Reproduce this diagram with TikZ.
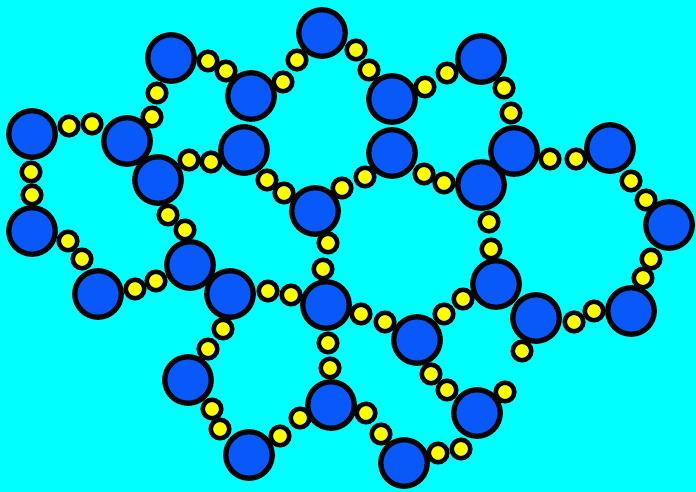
\documentclass[tikz,border=0pt]{standalone}
\usepackage{xcolor}
\definecolor{bgcyan}{RGB}{0, 255, 255}
\definecolor{atomblue}{RGB}{8, 88, 250}
\definecolor{beadyellow}{RGB}{255, 255, 0}

\begin{document}
\begin{tikzpicture}[x=0.02cm, y=-0.02cm,
  atom/.style={circle, draw=black, line width=3pt, fill=atomblue, inner sep=0pt, minimum size=0.93cm},
  bead/.style={circle, draw=black, line width=2.6pt, fill=beadyellow, inner sep=0pt, minimum size=0.37cm}]

% === Fondo ===
\fill[bgcyan] (0,0) rectangle (696,492);
\useasboundingbox (0,0) rectangle (696,492);

% === Atomos grandes ===
\foreach \n/\x/\y in {a1/322/33, a2/171/58, a3/481/59, a4/251/96, a5/392/99,
    a6/32/134, a7/127/141, a8/244/150, a9/392/153, a10/514/151, a11/610/148,
    a12/158/180, a13/481/185, a14/315/211, a15/669/225, a16/32/231,
    a17/190/265, a18/496/284, a19/98/294, a20/230/294, a21/326/305,
    a22/536/318, a23/631/311, a24/417/340, a25/188/380, a26/331/405,
    a27/477/413, a28/249/455, a29/404/463}
  \node[atom] (\n) at (\x,\y) {};

% === Cuentas amarillas (pares entre atomos) ===
\foreach \n/\x/\y in {s1/208/61, s2/226/71, s3/283/82, s4/297/60,
    s5/356/50, s6/369/70, s7/425/87, s8/447/73, s9/504/88, s10/511/113,
    s11/157/93, s12/152/117, s13/69/126, s14/92/124, s15/31/172, s16/32/195,
    s17/189/160, s18/211/162, s19/267/180, s20/284/193, s21/342/188, s22/365/177,
    s23/424/174, s24/444/183, s25/550/159, s26/576/159, s27/631/181, s28/646/200,
    s29/651/259, s30/643/278, s31/594/311, s32/574/322, s33/489/222, s34/491/249,
    s35/463/299, s36/444/314, s37/361/314, s38/385/322, s39/328/243, s40/323/269,
    s41/168/215, s42/185/230, s43/68/241, s44/82/259, s45/135/289, s46/156/281,
    s47/268/291, s48/291/295, s49/223/329, s50/208/349, s51/212/409, s52/220/429,
    s53/280/436, s54/300/418, s55/328/343, s56/330/368, s57/366/413, s58/381/434,
    s59/438/453, s60/461/449, s61/431/374, s62/447/390}
  \node[bead] (\n) at (\x,\y) {};

% Cuentas sueltas
\node[bead] (t1) at (505,392) {};
\node[bead] (t2) at (522,351) {};

\end{tikzpicture}
\end{document}
